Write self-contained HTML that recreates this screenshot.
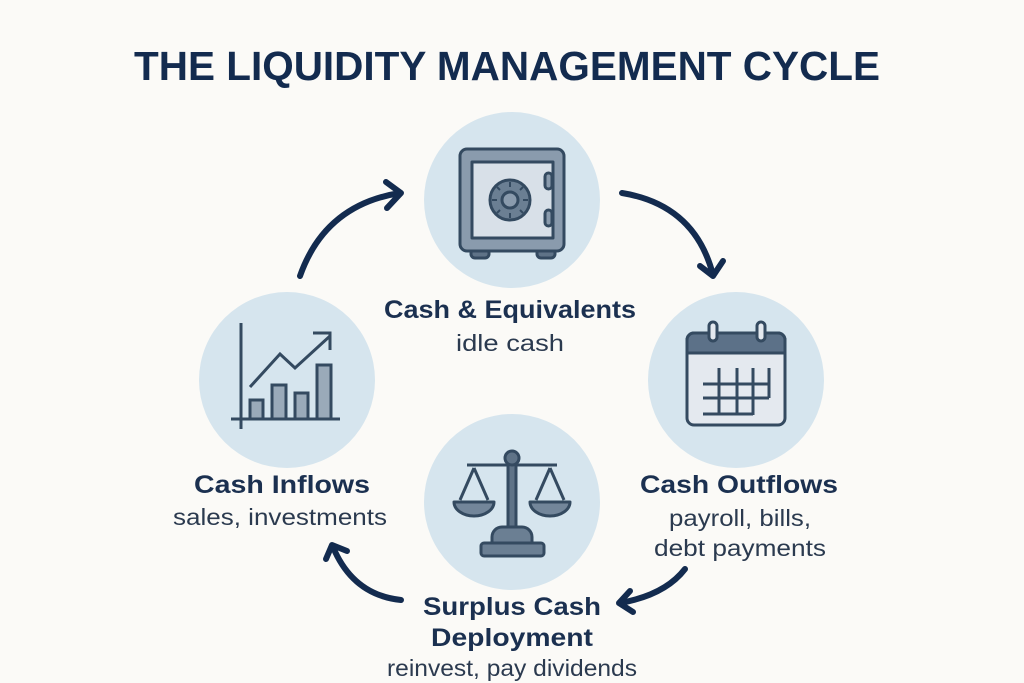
<!DOCTYPE html>
<html><head><meta charset="utf-8"><style>
html,body{margin:0;padding:0;background:#fbfaf7;}
svg{display:block}
text{font-family:"Liberation Sans","DejaVu Sans",sans-serif;fill:#1b3050;}
.b{font-weight:bold;font-size:25px}
.n{font-size:23px;fill:#2b3a4f}
</style></head><body>
<svg width="1024" height="683" viewBox="0 0 1024 683" xmlns="http://www.w3.org/2000/svg">
<rect width="1024" height="683" fill="#fbfaf7"/>
<text x="507" y="80" text-anchor="middle" font-size="41" font-weight="bold" textLength="746" lengthAdjust="spacingAndGlyphs" style="fill:#132b4f">THE LIQUIDITY MANAGEMENT CYCLE</text>

<g fill="#d6e5ee">
<circle cx="512" cy="200" r="88"/>
<circle cx="287" cy="380" r="88"/>
<circle cx="736" cy="380" r="88"/>
<circle cx="512" cy="502" r="88"/>
</g>

<!-- Safe -->
<g stroke="#344a60" stroke-width="3" stroke-linejoin="round">
<rect x="471" y="249" width="18" height="9" rx="4" fill="#5f7387"/>
<rect x="537" y="249" width="18" height="9" rx="4" fill="#5f7387"/>
<rect x="460" y="149" width="104" height="102" rx="7" fill="#8a9bad"/>
<rect x="472" y="162" width="81" height="76" fill="#d8e0e8"/>
<rect x="545" y="173" width="7" height="16" rx="3.5" fill="#8a9bad"/>
<rect x="545" y="210" width="7" height="16" rx="3.5" fill="#8a9bad"/>
<circle cx="510" cy="200" r="20" fill="#6b7f93"/>
<circle cx="510" cy="200" r="8" fill="#8a9bad"/>
<path d="M510 182 v5 M510 213 v5 M492 200 h5 M523 200 h5 M497 187 l3 3 M523 187 l-3 3 M497 213 l3 -3 M523 213 l-3 -3" stroke-width="2"/>
</g>

<!-- Chart -->
<g stroke="#344a60" stroke-width="3">
<line x1="241" y1="323" x2="241" y2="429"/>
<line x1="231" y1="419" x2="340" y2="419"/>
<rect x="250" y="400" width="13" height="19" fill="#9aaab9"/>
<rect x="272" y="385" width="14" height="34" fill="#9aaab9"/>
<rect x="295" y="393" width="13" height="26" fill="#9aaab9"/>
<rect x="317" y="365" width="14" height="54" fill="#9aaab9"/>
<polyline points="250,387 280,354 295,368 330,336" fill="none"/>
<polyline points="313,333 330,333 330,350" fill="none"/>
</g>

<!-- Calendar -->
<g stroke="#344a60" stroke-width="3" fill="none">
<path d="M694 333 h84 a7 7 0 0 1 7 7 v78 a7 7 0 0 1 -7 7 h-84 a7 7 0 0 1 -7 -7 v-78 a7 7 0 0 1 7 -7z" fill="#e4e9ef"/>
<path d="M694 333 h84 a7 7 0 0 1 7 7 v13 h-98 v-13 a7 7 0 0 1 7 -7z" fill="#5c7188"/>
<rect x="709" y="322" width="8" height="19" rx="4" fill="#e4e9ef"/>
<rect x="757" y="322" width="8" height="19" rx="4" fill="#e4e9ef"/>
<path d="M719 368 v47 M737 368 v47 M753 368 v47 M769 368 v30 M703 384 h66 M703 398 h66 M703 414 h50"/>
</g>

<!-- Scale -->
<g stroke="#344a60" stroke-width="3" stroke-linejoin="round">
<line x1="467" y1="465" x2="557" y2="465"/>
<line x1="474" y1="468" x2="460" y2="500" /><line x1="474" y1="468" x2="488" y2="500"/>
<line x1="550" y1="468" x2="536" y2="500"/><line x1="550" y1="468" x2="564" y2="500"/>
<path d="M454 502 h40 a20 14 0 0 1 -40 0z" fill="#73869a"/>
<path d="M530 502 h40 a20 14 0 0 1 -40 0z" fill="#73869a"/>
<rect x="508" y="461" width="8" height="70" fill="#5f7387"/>
<circle cx="512" cy="458" r="7" fill="#5f7387"/>
<path d="M492 543 v-6 a10 10 0 0 1 10 -10 h20 a10 10 0 0 1 10 10 v6z" fill="#6b7f93"/>
<rect x="481" y="543" width="63" height="13" rx="3" fill="#6b7f93"/>
</g>

<!-- Arrows -->
<g stroke="#132b4f" stroke-width="6" fill="none" stroke-linecap="round" stroke-linejoin="round">
<path d="M300 276 Q325 205 400 193"/>
<polyline points="386,182 401,193 387,208"/>
<path d="M622 193 Q695 205 713 275"/>
<polyline points="700,266 713,276 723,261"/>
<path d="M685 569 Q665 595 620 603"/>
<polyline points="630,591 619,603 633,612"/>
<path d="M401 600 Q353 595 333 547"/>
<polyline points="326,559 332,545 347,551"/>
</g>

<!-- Labels -->
<text class="b" x="510" y="318" text-anchor="middle" textLength="252" lengthAdjust="spacingAndGlyphs">Cash &amp; Equivalents</text>
<text class="n" x="510" y="351" text-anchor="middle" textLength="108" lengthAdjust="spacingAndGlyphs">idle cash</text>
<text class="b" x="282" y="493" text-anchor="middle" textLength="176" lengthAdjust="spacingAndGlyphs">Cash Inflows</text>
<text class="n" x="280" y="525" text-anchor="middle" textLength="214" lengthAdjust="spacingAndGlyphs">sales, investments</text>
<text class="b" x="739" y="493" text-anchor="middle" textLength="198" lengthAdjust="spacingAndGlyphs">Cash Outflows</text>
<text class="n" x="740" y="526" text-anchor="middle" textLength="142" lengthAdjust="spacingAndGlyphs">payroll, bills,</text>
<text class="n" x="740" y="556" text-anchor="middle" textLength="172" lengthAdjust="spacingAndGlyphs">debt payments</text>
<text class="b" x="512" y="615" text-anchor="middle" textLength="178" lengthAdjust="spacingAndGlyphs">Surplus Cash</text>
<text class="b" x="512" y="646" text-anchor="middle" textLength="162" lengthAdjust="spacingAndGlyphs">Deployment</text>
<text class="n" x="512" y="676" text-anchor="middle" textLength="250" lengthAdjust="spacingAndGlyphs">reinvest, pay dividends</text>
</svg>
</body></html>
